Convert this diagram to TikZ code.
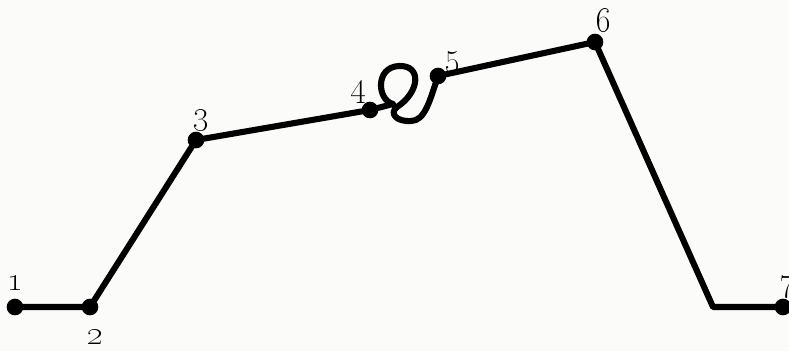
\documentclass[tikz,border=0pt]{standalone}
\usepackage{tikz}
\usetikzlibrary{positioning,calc}
\definecolor{pgBack}{RGB}{251,251,250}
\definecolor{pgInk} {RGB}{  0,  0,  0}

\begin{document}
\begin{tikzpicture}[
    x=0.03cm,y=-0.03cm,
    every node/.style={font=\fontsize{28}{32}\selectfont},
    dot/.style={circle,fill=pgInk,inner sep=0pt,minimum size=0.5cm},
    lbl/.style={inner sep=0pt,text=pgInk},
    trail/.style={line width=5.2pt,pgInk,line join=round}
  ]
  % Background
  \fill[pgBack] (0,0) rectangle (789,351);
  \useasboundingbox (0,0) rectangle (789,351);
  % Points
  \node[dot] (p1) at (15,307) {};
  \node[dot] (p2) at (90,307) {};
  \node[dot] (p3) at (196,140) {};
  \node[dot] (p4) at (370,110) {};
  \node[dot] (p5) at (438,76) {};
  \node[dot] (p6) at (595,42) {};
  \node[dot] (p7) at (783,307) {};
  \coordinate (bend) at (713,307);
  % Labels
  \node[lbl] (l1) at (15,283) {\oldstylenums{1}};
  \node[lbl] (l2) at (95,337) {\oldstylenums{2}};
  \node[lbl] (l3) at (201,120) {\oldstylenums{3}};
  \node[lbl] (l4) at (358,92) {\oldstylenums{4}};
  \node[lbl] (l5) at (452,62) {\oldstylenums{5}};
  \node[lbl] (l6) at (603,20) {\oldstylenums{6}};
  \node[lbl] (l7) at (787,287) {\oldstylenums{7}};
  % Trail
  \draw[trail] (p1.center) -- (p2.center) -- (p3.center) -- (p4.center);
  \draw[trail] (p4.center) -- (393,104)
      .. controls (377,100) and (375,67) .. (399,66)
      .. controls (422,65) and (420,92) .. (397,107)
      .. controls (389,113) and (396,122) .. (411,121)
      .. controls (425,121) and (430,100) .. (p5.center);
  \draw[trail] (p5.center) -- (p6.center) -- (bend) -- (p7.center);
\end{tikzpicture}
\end{document}
